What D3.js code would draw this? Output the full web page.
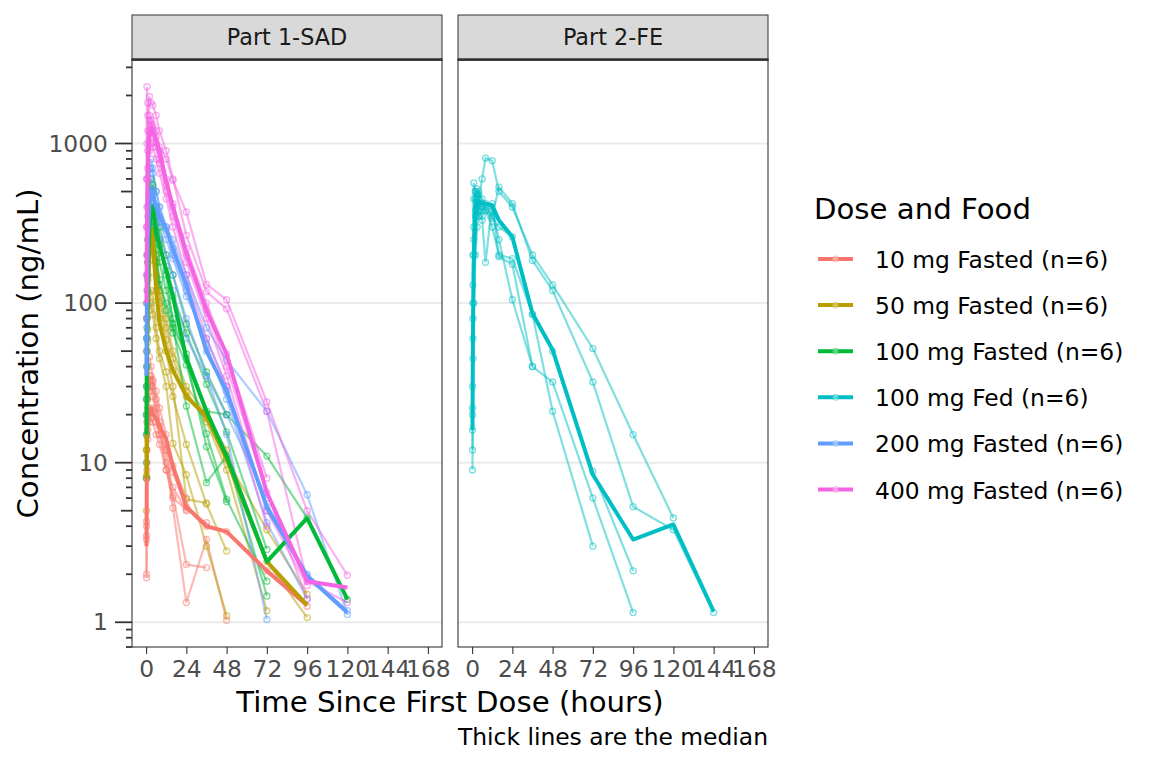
<!DOCTYPE html>
<html>
<head>
<meta charset="utf-8">
<script src="https://cdn.jsdelivr.net/npm/d3@7"></script>
<style>
  body { margin: 0; background: #fff; }
  svg { font-family: "DejaVu Sans", sans-serif; }
</style>
</head>
<body>
<svg id="chart" width="1152" height="768"></svg>
<script>
// sampling times (hours), one slot per value in every row below
const times = [0.25, 0.5, 1, 2, 3, 4, 6, 8, 12, 16, 24, 36, 48, 72, 96, 120, 144];

const groupNames = ["10 mg Fasted (n=6)", "50 mg Fasted (n=6)", "100 mg Fasted (n=6)",
                    "100 mg Fed (n=6)", "200 mg Fasted (n=6)", "400 mg Fasted (n=6)"];
const facetNames = ["Part 1-SAD", "Part 2-FE"];
const groupFacet = [0, 0, 0, 1, 0, 0];
const xTicks = [0, 24, 48, 72, 96, 120, 144, 168];
const yTicks = [1, 10, 100, 1000];

// individual concentrations (ng/mL), null = not measurable
const conc10 = [
  [1.9, 8, 20, 30, 35, 32, 28, 22, 15, 8.7, 5.3, 4.0, 3.7, 2.1, 1.26, null, null],
  [2.0, 12, 25, 46, 40, 33, 25, 18, 12, 6.2, 2.3, 2.2, null, null, null, null, null],
  [3.3, 15, 22, 28, 30, 26, 20, 17, 10, 5.2, 1.33, 3.3, 1.03, null, null, null, null],
  [4.0, 18, 30, 35, 33, 30, 22, 15, 9, 6, 5.1, 4.2, null, null, null, null, null],
  [3.5, 10, 16, 20, 22, 21, 18, 15, 12, 9.5, 6, null, null, null, null, null, null],
  [4.3, 9, 14, 18, 19, 18, 15, 13, 9, 7, 5, null, null, null, null, null, null]
];
const conc50 = [
  [8, 40, 120, 250, 300, 280, 150, 100, 59, 38, 26, 19, 10.5, 3.8, 1.5, null, null],
  [12, 60, 180, 350, 420, 380, 200, 120, 80, 50, 30, 20, 12, 2.4, 1.07, null, null],
  [5, 25, 68, 100, 120, 110, 70, 50, 37, 26, 13, 5.5, 2.8, null, null, null, null],
  [8.3, 30, 57, 90, 100, 85, 60, 45, 30, 13.2, 8.4, 3.0, 1.1, null, null, null, null],
  [12, 50, 150, 280, 350, 300, 180, 110, 70, 45, 28, 18, 9, 1.18, null, null, null],
  [20, 80, 200, 260, 240, 200, 120, 80, 50, 30, 5.9, 5.6, null, null, null, null, null]
];
const conc100 = [
  [15, 60, 200, 400, 500, 550, 400, 300, 200, 150, 74, 37, 20, 11, 4.5, 1.39, null],
  [10, 50, 150, 300, 380, 400, 280, 230, 160, 110, 65, 31, 15.6, 2.86, null, null, null],
  [20, 70, 140, 250, 300, 280, 200, 140, 90, 65, 41, 15.2, 5.9, 1.81, null, null, null],
  [30, 100, 250, 450, 600, 500, 350, 250, 150, 74, 22.6, 7.5, 11, 1.46, null, null, null],
  [25, 80, 180, 320, 400, 380, 260, 180, 120, 80, 45, 12.6, 5.7, null, null, null, null],
  [8, 40, 120, 220, 260, 250, 180, 130, 100, 70, 48, 21, 20, null, null, null, null]
];
const concFed = [
  [9, 60, 300, 500, 480, 450, 600, 810, 780, 500, 400, 200, 130, 52, 15, 4.5, null],
  [12, 130, 565, 500, 450, 420, 350, 400, 350, 533, 420, 185, 120, 32, 5.3, 3.8, 1.15],
  [16, 200, 450, 380, 400, 350, 400, 380, 300, 200, 190, 85, 50, 8.8, 2.1, null, null],
  [22, 45, 100, 200, 300, 500, 450, 420, 380, 250, 105, 40, 32, 6, 1.15, null, null],
  [30, 80, 250, 450, 520, 480, 420, 380, 340, 300, 260, 85, 21, 3, null, null, null],
  [20, 100, 200, 350, 400, 380, 330, 180, 420, 195, 175, 40, null, null, null, null, null]
];
const conc200 = [
  [40, 150, 350, 600, 700, 650, 500, 400, 300, 250, 150, 70, 44, 21, 6.3, 1.12, null],
  [25, 100, 250, 450, 500, 480, 400, 350, 290, 220, 130, 50, 28, 5.3, 1.95, null, null],
  [20, 80, 200, 380, 420, 400, 320, 260, 200, 150, 80, 35, 15, 1.04, null, null, null],
  [60, 200, 400, 700, 800, 700, 500, 400, 300, 200, 120, 55, 25, 4.2, 1.4, null, null],
  [30, 120, 300, 500, 550, 500, 350, 250, 170, 120, 60, 35, 20, 6, null, null, null],
  [15, 60, 150, 300, 400, 420, 380, 320, 250, 190, 110, 60, 30, 5, 2, 1.18, null]
];
const conc400 = [
  [600, 2270, 1800, 1500, 1400, 1300, 1200, 950, 800, 588, 372, 131, 105, 24, 5.0, 1.97, null],
  [300, 1000, 1500, 1970, 1800, 1730, 1500, 1200, 900, 600, 266, 118, 92, 21, 1.8, 1.33, null],
  [100, 400, 900, 1200, 1300, 1200, 1000, 800, 550, 400, 200, 90, 40, 6.5, 1.4, null, null],
  [50, 200, 600, 1000, 1200, 1100, 950, 750, 500, 350, 180, 80, 35, 5, 1.7, null, null],
  [150, 600, 1200, 1400, 1350, 1250, 1100, 900, 600, 420, 220, 100, 48, 8, null, null, null],
  [80, 300, 700, 900, 1000, 950, 800, 650, 450, 300, 150, 60, 30, 4, null, null, null]
];

// medians per time (thick lines)
const med10  = [3.0, 12, 18, 21, 22, 20, 19, 17, 14, 9.5, 5.3, 4.0, 3.7, 2.1, 1.28, null, null];
const med50  = [8, 40, 100, 200, 290, 250, 120, 75, 50, 38, 26, 19.5, 10.5, 2.4, 1.28, null, null];
const med100 = [15, 60, 150, 300, 380, 400, 280, 230, 160, 110, 45, 21, 11, 2.4, 4.5, 1.39, null];
const medFed = [16, 60, 180, 350, 440, 430, 420, 420, 410, 330, 260, 86, 51, 8.4, 3.3, 4.1, 1.17];
const med200 = [35, 100, 250, 420, 500, 480, 400, 350, 290, 220, 130, 50, 28, 5.3, 1.95, 1.15, null];
const med400 = [100, 300, 700, 1100, 1250, 1200, 1050, 900, 580, 400, 205, 90, 48, 6.5, 1.81, 1.65, null];

const subjects = [conc10, conc50, conc100, concFed, conc200, conc400];
const medians = [med10, med50, med100, medFed, med200, med400];

const color = d3.scaleOrdinal()
  .domain(groupNames)
  .range(["#F8766D", "#B79F00", "#00BA38", "#00BFC4", "#619CFF", "#F564E3"]);

const svg = d3.select("#chart");
const panelTop = 60, panelBottom = 647, stripTop = 15;
const panels = [{ left: 132, right: 442 }, { left: 458, right: 768 }];
const small = 23.4, big = 29.2;

const y = d3.scaleLog().domain([0.7, 3336]).range([panelBottom, panelTop]);
const toPairs = row => times.map((t, k) => [t, row[k]]).filter(d => d[1] != null);

panels.forEach((p, i) => {
  const x = d3.scaleLinear().domain([-8.4, 176.4]).range([p.left, p.right]);
  p.x = x;
  const w = p.right - p.left;

  // strip
  svg.append("rect")
    .attr("x", p.left).attr("y", stripTop)
    .attr("width", w).attr("height", panelTop - stripTop)
    .attr("fill", "#D9D9D9").attr("stroke", "#333").attr("stroke-width", 1);
  svg.append("text")
    .attr("x", (p.left + p.right) / 2).attr("y", 45)
    .attr("text-anchor", "middle").attr("font-size", 22.3).attr("fill", "#1A1A1A")
    .text(facetNames[i]);

  // grid
  svg.append("g").selectAll("line").data(yTicks).join("line")
    .attr("x1", p.left).attr("x2", p.right)
    .attr("y1", d => y(d)).attr("y2", d => y(d))
    .attr("stroke", "#EBEBEB").attr("stroke-width", 2);

  // clip
  svg.append("clipPath").attr("id", "clip" + i)
    .append("rect").attr("x", p.left).attr("y", panelTop).attr("width", w).attr("height", panelBottom - panelTop);

  // x axis
  const xa = svg.append("g").attr("transform", `translate(0,${panelBottom})`)
    .call(d3.axisBottom(x).tickValues(xTicks).tickSize(7).tickPadding(6).tickFormat(d3.format("d")));
  xa.select(".domain").remove();
  xa.selectAll(".tick line").attr("stroke", "#333").attr("stroke-width", 1.1);
  xa.selectAll(".tick text").attr("font-size", small).attr("fill", "#4D4D4D")
    .attr("font-family", "DejaVu Sans").attr("dy", "0.71em");
});

// data layers
const line = x => d3.line().x(d => x(d[0])).y(d => y(d[1]));
const layer = svg.append("g");
const lineLayer = layer.append("g"), pointLayer = layer.append("g"), medLayer = layer.append("g");

groupNames.forEach((g, gi) => {
  const p = panels[groupFacet[gi]];
  const clip = `url(#clip${groupFacet[gi]})`;
  lineLayer.append("g").attr("clip-path", clip)
    .selectAll("path").data(subjects[gi]).join("path")
    .attr("d", r => line(p.x)(toPairs(r)))
    .attr("fill", "none").attr("stroke", color(g))
    .attr("stroke-width", 2.2).attr("stroke-opacity", 0.5);
  pointLayer.append("g").attr("clip-path", clip)
    .selectAll("circle").data(subjects[gi].flatMap(toPairs)).join("circle")
    .attr("cx", d => p.x(d[0])).attr("cy", d => y(d[1])).attr("r", 3)
    .attr("fill", "none").attr("stroke", color(g))
    .attr("stroke-width", 1.4).attr("stroke-opacity", 0.5);
});
groupNames.forEach((g, gi) => {
  const p = panels[groupFacet[gi]];
  medLayer.append("path")
    .attr("clip-path", `url(#clip${groupFacet[gi]})`)
    .attr("d", line(p.x)(toPairs(medians[gi])))
    .attr("fill", "none").attr("stroke", color(g))
    .attr("stroke-width", 4).attr("stroke-linejoin", "round");
});

// panel borders
panels.forEach(p => {
  svg.append("rect")
    .attr("x", p.left).attr("y", panelTop)
    .attr("width", p.right - p.left).attr("height", panelBottom - panelTop)
    .attr("fill", "none").attr("stroke", "#333").attr("stroke-width", 1.1);
  svg.append("line")
    .attr("x1", p.left - 0.5).attr("x2", p.right + 0.5)
    .attr("y1", panelTop - 0.5).attr("y2", panelTop - 0.5)
    .attr("stroke", "#333").attr("stroke-width", 2.5);
});

// y axis with log ticks (first panel only)
const left = panels[0].left;
const logTicks = [];
for (let e = -1; e <= 3; e++) {
  for (let k = 1; k <= 9; k++) {
    const v = k * Math.pow(10, e);
    if (v >= y.domain()[0] && v <= y.domain()[1]) logTicks.push({ v, k });
  }
}
svg.append("g").selectAll("line").data(logTicks).join("line")
  .attr("x1", d => left - (d.k === 1 ? 17 : d.k === 5 ? 11 : 6)).attr("x2", left)
  .attr("y1", d => y(d.v)).attr("y2", d => y(d.v))
  .attr("stroke", "#333").attr("stroke-width", 1.8);
svg.append("g").selectAll("text").data(yTicks).join("text")
  .attr("x", 108).attr("y", d => y(d) + 8)
  .attr("text-anchor", "end").attr("font-size", small).attr("fill", "#4D4D4D")
  .text(d => d);

// titles
svg.append("text")
  .attr("x", (panels[0].left + panels[1].right) / 2).attr("y", 712)
  .attr("text-anchor", "middle").attr("font-size", big)
  .text("Time Since First Dose (hours)");
svg.append("text")
  .attr("transform", `translate(38,${(panelTop + panelBottom) / 2}) rotate(-90)`)
  .attr("text-anchor", "middle").attr("font-size", big)
  .text("Concentration (ng/mL)");
svg.append("text")
  .attr("x", panels[1].right).attr("y", 745)
  .attr("text-anchor", "end").attr("font-size", small)
  .text("Thick lines are the median");

// legend
const legend = svg.append("g");
legend.append("text").attr("x", 814).attr("y", 218.5).attr("font-size", big).text("Dose and Food");
const item = legend.selectAll("g.item").data(groupNames).join("g")
  .attr("class", "item")
  .attr("transform", (d, i) => `translate(0,${259 + i * 46.1})`);
item.append("line").attr("x1", 818).attr("x2", 853)
  .attr("stroke", d => color(d)).attr("stroke-width", 4);
item.append("circle").attr("cx", 835.5).attr("r", 3)
  .attr("fill", "#fff").attr("fill-opacity", 0.35)
  .attr("stroke", d => color(d)).attr("stroke-opacity", 0.5);
item.append("text").attr("x", 875).attr("y", 9).attr("font-size", small).text(d => d);
</script>
</body>
</html>
